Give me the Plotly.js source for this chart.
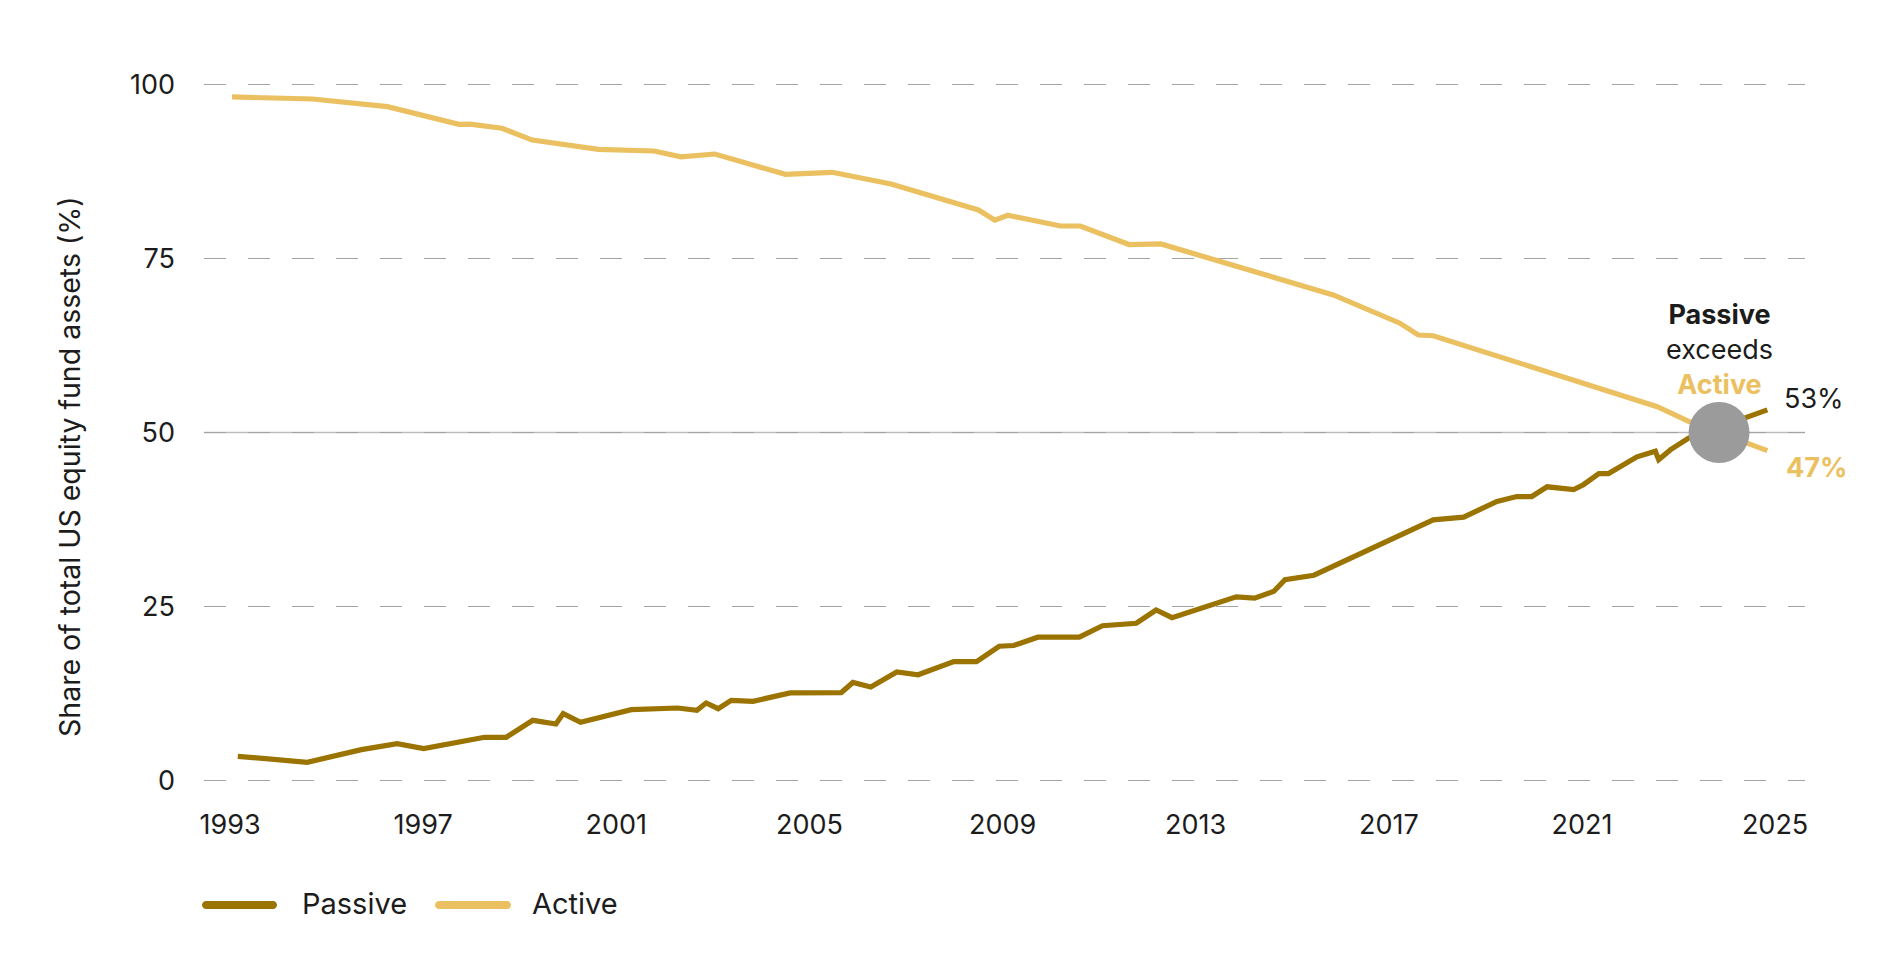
<!DOCTYPE html>
<html>
<head>
<meta charset="utf-8">
<script src="https://cdn.plot.ly/plotly-3.0.1.min.js"></script>
<style>html,body{margin:0;padding:0;background:#fff;}#chart{width:1884px;height:957px;}</style>
</head>
<body>
<div id="chart"></div>
<script>
// ---- data ----
const passiveYears = [1993.16, 1994.6, 1995.72, 1996.46, 1997.01, 1998.27, 1998.72, 1999.27, 1999.75, 1999.9, 2000.26, 2001.31, 2002.27, 2002.67, 2002.86, 2003.11, 2003.38, 2003.83, 2004.6, 2005.66, 2005.9, 2006.27, 2006.81, 2007.25, 2007.99, 2008.46, 2008.93, 2009.23, 2009.73, 2010.59, 2011.07, 2011.77, 2012.18, 2012.51, 2013.84, 2014.22, 2014.62, 2014.85, 2015.45, 2017.92, 2018.55, 2019.24, 2019.65, 2019.96, 2020.28, 2020.83, 2021.03, 2021.35, 2021.55, 2022.14, 2022.52, 2022.59, 2022.83, 2023.21, 2024.84];
const passiveValues = [3.49, 2.63, 4.45, 5.31, 4.59, 6.22, 6.22, 8.66, 8.13, 9.62, 8.37, 10.19, 10.43, 10.1, 11.15, 10.33, 11.53, 11.39, 12.6, 12.65, 14.1, 13.45, 15.6, 15.2, 17.1, 17.1, 19.3, 19.4, 20.6, 20.6, 22.25, 22.6, 24.5, 23.4, 26.4, 26.2, 27.2, 28.85, 29.5, 37.46, 37.85, 40.1, 40.8, 40.8, 42.2, 41.8, 42.5, 44.1, 44.1, 46.5, 47.3, 46.1, 47.5, 49.2, 53.25];
const activeYears = [1993.04, 1994.71, 1996.26, 1997.74, 1997.97, 1998.63, 1999.26, 2000.63, 2001.78, 2002.34, 2003.04, 2004.5, 2005.47, 2006.47, 2006.69, 2008.5, 2008.84, 2009.11, 2010.2, 2010.61, 2011.62, 2012.28, 2015.85, 2017.23, 2017.61, 2017.92, 2022.56, 2023.21, 2024.84];
const activeValues = [98.2, 97.9, 96.8, 94.26, 94.3, 93.7, 92.0, 90.67, 90.43, 89.6, 90.0, 87.08, 87.37, 85.9, 85.7, 81.96, 80.5, 81.2, 79.66, 79.66, 77.0, 77.08, 69.76, 65.7, 64.0, 63.9, 53.7, 51.6, 47.4];
const crossoverYear = [2023.84];
const crossoverValue = [50];
const xTickValues = [1993, 1997, 2001, 2005, 2009, 2013, 2017, 2021, 2025];
const xTickLabels = ['1993', '1997', '2001', '2005', '2009', '2013', '2017', '2021', '2025'];
const yTickValues = [0, 25, 50, 75, 100];
const yTickLabels = ['0', '25', '50', '75', '100'];
const seriesNames = ['Passive', 'Active'];
const endLabels = ['53%', '47%'];

// ---- styles ----
const PASSIVE = '#9B7300';
const ACTIVE = '#EBC060';
const TEXT = '#1c1c1c';
const FONT = 'Inter, "Noto Sans", sans-serif';

const traces = [
  {x: passiveYears, y: passiveValues, type: 'scatter', mode: 'lines', name: seriesNames[0],
   line: {color: PASSIVE, width: 5.2}, hoverinfo: 'x+y'},
  {x: activeYears, y: activeValues, type: 'scatter', mode: 'lines', name: seriesNames[1],
   line: {color: ACTIVE, width: 5.2}, hoverinfo: 'x+y'},
  {x: crossoverYear, y: crossoverValue, type: 'scatter', mode: 'markers', name: 'crossover',
   marker: {color: '#9b9b9b', size: 61, line: {width: 0}}, hoverinfo: 'skip', cliponaxis: false}
];

// capsule path for legend swatches (pixel units)
function capsule(len, r) {
  const k = 0.5523 * r;
  return `M ${r},${-r} L ${len - r},${-r} C ${len - r + k},${-r} ${len},${-k} ${len},0 ` +
         `C ${len},${k} ${len - r + k},${r} ${len - r},${r} L ${r},${r} ` +
         `C ${r - k},${r} 0,${k} 0,0 C 0,${-k} ${r - k},${-r} ${r},${-r} Z`;
}
// plot area: x 204..1805, y 83..782
const px = v => (v - 204) / 1601;
const py = v => (782 - v) / 699;

const layout = {
  width: 1884, height: 957,
  margin: {l: 204, r: 79, t: 83, b: 175},
  paper_bgcolor: '#ffffff', plot_bgcolor: '#ffffff',
  showlegend: false,
  font: {family: FONT, color: TEXT, size: 27},
  xaxis: {
    range: [1992.46, 2025.62], showgrid: false, zeroline: false, showline: false,
    tickmode: 'array', tickvals: xTickValues, ticktext: xTickLabels,
    ticks: '', ticklabelstandoff: 24,
    tickfont: {family: FONT, size: 27, color: TEXT}, fixedrange: true
  },
  yaxis: {
    range: [-0.2, 100.2], showgrid: true, gridcolor: '#a3a3a3', gridwidth: 1.5,
    griddash: '22px,22px', zeroline: false, showline: false,
    tickmode: 'array', tickvals: yTickValues, ticktext: yTickLabels,
    ticks: '', ticklabelstandoff: 28,
    tickfont: {family: FONT, size: 27, color: TEXT}, fixedrange: true
  },
  shapes: [
    {type: 'line', xref: 'paper', yref: 'y', x0: 0, x1: 1, y0: 50, y1: 50,
     line: {color: '#bdbdbd', width: 1.5}, layer: 'below'},
    {type: 'path', xref: 'paper', yref: 'paper', xsizemode: 'pixel', ysizemode: 'pixel',
     xanchor: px(202), yanchor: py(905), path: capsule(75, 4),
     fillcolor: PASSIVE, line: {width: 0}},
    {type: 'path', xref: 'paper', yref: 'paper', xsizemode: 'pixel', ysizemode: 'pixel',
     xanchor: px(435), yanchor: py(905), path: capsule(76, 4),
     fillcolor: ACTIVE, line: {width: 0}}
  ],
  annotations: [
    {xref: 'paper', yref: 'paper', x: px(69), y: py(467), xanchor: 'center', yanchor: 'middle',
     text: 'Share of total US equity fund assets (%)', textangle: -90, showarrow: false,
     font: {family: FONT, size: 28.5, color: TEXT}},
    {xref: 'x', yref: 'y', x: crossoverYear[0], y: 61.9, xanchor: 'center', yanchor: 'middle',
     text: '<b>Passive</b><br>exceeds<br><b><span style="color:' + ACTIVE + '">Active</span></b>',
     showarrow: false, align: 'center', font: {family: FONT, size: 27, color: TEXT}},
    {xref: 'paper', yref: 'paper', x: px(1814), y: py(399), xanchor: 'center', yanchor: 'middle',
     text: endLabels[0], showarrow: false, font: {family: FONT, size: 27, color: TEXT}},
    {xref: 'paper', yref: 'paper', x: px(1816), y: py(467), xanchor: 'center', yanchor: 'middle',
     text: '<b>' + endLabels[1] + '</b>', showarrow: false, font: {family: FONT, size: 27, color: ACTIVE}},
    {xref: 'paper', yref: 'paper', x: px(300), y: py(903), xanchor: 'left', yanchor: 'middle',
     text: seriesNames[0], showarrow: false, font: {family: FONT, size: 29, color: TEXT}},
    {xref: 'paper', yref: 'paper', x: px(530), y: py(903), xanchor: 'left', yanchor: 'middle',
     text: seriesNames[1], showarrow: false, font: {family: FONT, size: 29, color: TEXT}}
  ]
};

Plotly.newPlot('chart', traces, layout, {displayModeBar: false, staticPlot: true});
</script>
</body>
</html>
